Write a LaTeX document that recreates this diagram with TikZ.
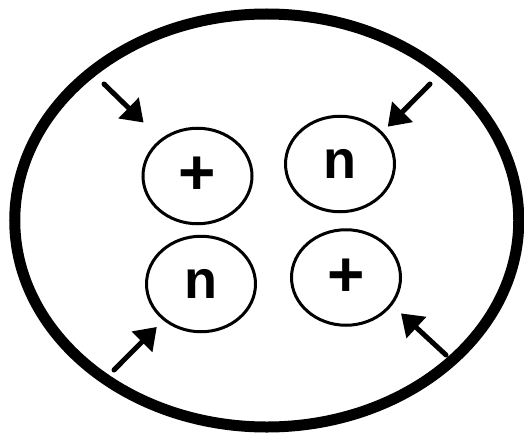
\documentclass[tikz,border=0pt]{standalone}
\usepackage{fontspec}
\setmainfont{Liberation Sans}
\usetikzlibrary{arrows.meta,shapes.geometric}
\begin{document}
\begin{tikzpicture}[x=1pt,y=-1pt,
  outer/.style={ellipse, draw, line width=11pt, minimum width=504pt, minimum height=413pt, inner sep=0pt},
  cell/.style={ellipse, draw, line width=3pt, minimum width=109pt, minimum height=95.5pt, inner sep=0pt},
  plustext/.style={font=\fontsize{64}{64}\selectfont\bfseries},
  ntext/.style={font=\fontsize{54}{54}\selectfont\bfseries},
  arr/.style={line width=5pt, line cap=round, -{Triangle[length=21pt,width=28pt]}}]
\useasboundingbox (0,0) rectangle (524,433);
\node[outer] (cell) at (266.75,220.5) {};
\node[cell, plustext] (c1) at (197.5,176) {+};
\node[cell, ntext] (c2) at (340,164) {n};
\node[cell, ntext] (c3) at (201,284) {n};
\node[cell, plustext] (c4) at (346,277.5) {+};
\coordinate (t1) at (104,84);
\coordinate (t2) at (430,84);
\coordinate (t3) at (114,370);
\coordinate (t4) at (446,355);
\draw[arr, shorten >=23.6pt] (t1) -- (c1.135.8);
\draw[arr, shorten >=7.4pt] (t2) -- (c2.37.6);
\draw[arr, shorten >=9.2pt] (t3) -- (c3.224.3);
\draw[arr, shorten >=11.9pt] (t4) -- (c4.-31.6);
\end{tikzpicture}
\end{document}
